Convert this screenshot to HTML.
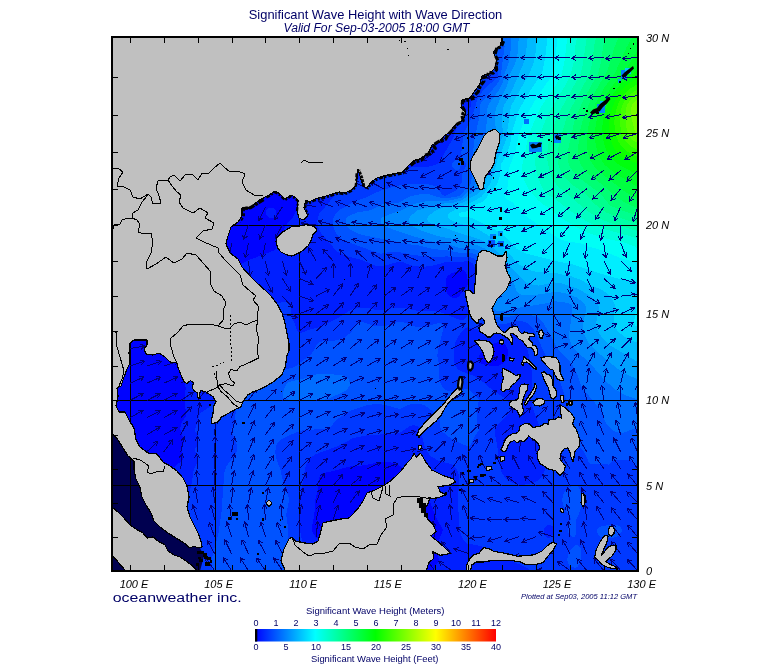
<!DOCTYPE html>
<html><head><meta charset="utf-8"><title>Significant Wave Height with Wave Direction</title>
<style>html,body{margin:0;padding:0;background:#fff}body{width:775px;height:665px;position:relative;overflow:hidden;font-family:"Liberation Sans",sans-serif}</style></head>
<body>
<svg width="775" height="665" viewBox="0 0 775 665" style="position:absolute;left:0;top:0">
<defs><clipPath id="cl"><rect x="113" y="38" width="524" height="532"/></clipPath>
<linearGradient id="cb" x1="0" x2="1" y1="0" y2="0"><stop offset="0" stop-color="#0000ff"/><stop offset="0.25" stop-color="#00ffff"/><stop offset="0.5" stop-color="#00ff00"/><stop offset="0.75" stop-color="#ffff00"/><stop offset="1" stop-color="#ff0000"/></linearGradient></defs>
<rect x="111" y="36" width="528" height="536" fill="#000"/>
<g clip-path="url(#cl)">
<g shape-rendering="crispEdges"><rect x="113" y="38" width="524" height="532" fill="#0003ff"/><path fill="#001fff" d="M444.7,36 639,36 639,572 432.2,572 439,560 437.5,554 437.6,546 439.8,538 443.1,530 436.4,518 427.5,496 421,486 409.7,474 401,466.6 395,463.3 387,461.7 381,462.1 363,465.4 349,466.6 335,470.6 323,473.2 321,474 319.6,476 318.2,488 315,501.1 314.4,514 311.7,528 312.3,532 315,536.1 319,539.9 358.1,572 111,572 111,508.4 124.9,496 138.3,486 151.6,478 175,466.3 182.9,460 183.2,458 181.9,450 184.3,440 181.3,434 180.1,428 181.8,422 185.9,416 186.3,414 184.5,402 185.7,388 179.8,354 179.2,342 180.3,334 183.1,324 186.5,316 192.2,306 199.3,296 206.3,288 214.8,280 222.6,274 232.4,268 247,260.8 275,250 280.7,240 285.3,226 293,217 294.8,214 298.4,202 303.5,192 313.7,178 319.6,172 327,165.8 335,160.6 343,156.4 351,153.1 361,150 379,146.4 411,142.9 421,140.5 430.2,136 437.6,130 457.5,102 459.6,96 464.3,72 463.7,64 460.4,56 453.7,46ZM495,343.2 486.1,348 481.3,352 480,354 479.2,356 479,359.1 481,364 491,365.9 497,366.1 501,364.8 505,361.5 507,358 507.9,354 507.8,350 506.3,346 504.6,344 501,342.2 499,342ZM461,270 451,273.4 447.7,276 446.5,278 445.9,280 446.4,284 445.8,290 446.2,292 449,295.8 453,298 457,297.9 459,296.2 467.3,286 468.1,284 467,275.3 465.8,272 463,270.1ZM268.8,208 271,207.5 273,208 275.4,210 276.4,214 275.9,216 273.5,218 271,218.3 269,217.7 267,216.1 266,214 265.9,212 266.6,210Z"/><path fill="#0039ff" d="M472.9,36 639,36 639,572 532.7,572 527.2,568 511,560.6 489,548.7 481,546 467,543.5 464.9,542 462.2,538 460.7,534 459.6,528 458,504 459,478 458.5,474 457.1,470 454.1,466 451,464.1 437,460.1 430.7,456 427.3,452 424.3,446 420.9,430 419.8,428 417.4,426 413,425.1 409,426.5 401,432.2 397,433.5 367,435.3 353.1,438 341,444.9 315,454.5 311,457.3 308.5,460 305.6,466 301.1,490 300.3,500 299.9,530 302.9,544 312.3,572 166.9,572 173.2,558 186.7,534 189,528 189.3,524 187.9,508 188,500 191.9,482 193.7,470 196.6,464 197.4,460 197,456 194.6,450 198.1,444 198.6,438 197,434 194.5,430 197.9,422 199,415.3 201,412.6 210.8,406 214.2,402 223,376 231,360.1 241,346.4 259.5,326 270.2,310 273.6,306 277,303.6 283,301.8 287,301.9 289,302.4 291,303.9 291.6,306 290.9,312 291.4,316 295,324 297,330.7 299,332.5 301,332.9 311,329.2 321,326.8 339,317.3 351,309.9 359,307.5 365,307.5 377,310.1 381,310.4 395,307.7 401,307.5 419,311.2 435,311.2 443,312.9 457,319 461,320 463,320 465,318.9 467,315.8 475.8,288 476.7,282 476.4,274 475.2,268 473.2,264 471,262.2 467,261.4 445,262.3 433,265.6 423,266.9 413,265.8 403,262.3 399,261.6 385,265.6 379,266.1 375,265.6 361,259.7 345,255.8 337,251.6 321.6,234 318.4,228 317.4,222 317.7,218 319,214 333,197.5 345,187.4 359,179.1 373,173.6 387,169.9 401,168 429,166.6 435,165.1 439,162.7 453,138.3 456.5,128 459.5,122 470.9,106 471.8,96 474.8,88 479,82 486.2,74 487.2,72 487,67.8 483,55.2 479,46.3ZM547,525.2 544.5,528 543.8,532 545,536 547,537.8 549,537.9 551,537 553,534.8 554.2,530 553,526.9 551,525.1 549,524.6ZM467,327.4 465,328.3 461,332.6 457,338.8 454.8,344 453.7,356 454.1,362 455.3,366 459,370.3 473,375.6 480.6,380 493,390.6 504.6,398 508.5,402 510.2,406 510.1,410 508.3,414 497,425.5 495,430 495,434.8 497.6,448 498.8,462 501.5,472 503.9,476 507,479.3 511,482.1 515,483.7 519,484.6 525,484.6 535,482.3 538.7,480 540.7,478 544.2,472 546.3,464 546.6,454 545.4,446 543,436.9 532.1,406 531.4,400 532.1,382 531.5,370 528.6,354 524.4,340 521,333.9 519,332 517,331.4 503,332 489,331.7Z"/><path fill="#0053ff" d="M489.8,36 639,36 639,469.3 637,468.9 633,461.5 631,460.2 629,459.7 615,460.3 611.3,462 609,464.6 601,463.8 591,464.1 589,462.6 584.1,452 577,443.5 573.3,436 571.3,428 569.6,410 560.1,382 555.4,372 543,350.5 536.2,334 532.9,328 527,322.8 521,320.8 517,321.1 509,323.2 503,324.1 493,323.3 485.6,320 483,317.6 481,314.7 479.4,310 479.1,304 483.1,284 483.1,276 481.9,270 480.3,266 477.8,262 475,259.2 473,257.9 469,256.9 459,257.3 447,256.4 439,256.9 429,256.5 411,254.8 403,252.8 397,252 389,252.2 381,253.7 379,253.4 343,240.2 338.1,236 335.4,232 333.7,228 332.8,222 333.5,218 335.3,214 339,210 347,206 355,201 367,197 377.5,192 385,189.2 401,184.9 411,184.2 429,184.5 437,186.5 441.6,194 445,196.1 457.2,190 461.8,182 462.6,172 466.4,166 466.3,164 465,162 463,160.8 461,161.5 460.3,168 459,169.5 457,170 455,169.6 453,168.1 452.1,166 452.2,164 453,162.3 455,160.5 459,159.4 460.6,158 463.6,134 472.4,116 477.8,98 483.3,90 497,77.6 498,76 498.3,74 494.1,48ZM360.1,322 363,322 373,325.5 379,326.5 387,325.6 399,321.5 403,321.9 413,326 419,327.3 427,326.6 439,322.7 442,324 443.1,326 443,330 438,350 437.3,356 439.3,366 438.7,376 441,384.5 443,387.9 445,389.8 449,391.4 457,391.3 467,388.8 469,389 473.2,394 478.1,398 479,399.7 476.5,414 477.2,422 478.9,430 473.8,438 471,444 469,446.8 467,446.2 453,439.6 447,435.8 440.8,430 439.5,420 436.3,414 433,411.2 430.5,410 425,405.2 419,403.6 411,404.3 407,405.6 401,408.6 399,408.9 389,405.8 381,404.3 375,404.1 367,405.3 351,410.3 345,413.8 336.3,420 329,428.8 304.2,430 296.9,432 287.9,436 280.6,440 278.3,442 276.1,446 275.2,452 276.2,458 280.4,470 283.8,484 288.3,496 289.1,500 286.6,512 286.3,516 288.5,530 287.6,542 288.4,562 286.9,572 212,572 211.7,566 212.4,556 218.3,534 221.5,512 224.4,472 226.5,466 234.5,456 237.4,450 236.6,444 230.9,430 234.6,422 235.9,410 237.3,406 241,400.6 249,391.7 255,385.9 263,379.6 271.6,374 277,371.2 283,369.3 291,368.2 295.9,366 311,354.4 314.1,350 317.2,344 319,342.4 323,341.3 337,340.4 345,337.5 351,332.3 356.4,324ZM584.9,470 585,469.6 585.3,470 585,470.2ZM571.4,486 575,485.2 577,485.7 579,487.7 580.6,492 581.1,496 580.9,508 579,514 576,520 576.5,532 575,536.4 573,537 569,534.1 567.8,532 567.5,528 570.4,522 570.6,518 564.2,508 562.7,504 562.2,500 563,495.2 565,491.2 567,488.8ZM602.4,526 613,524.7 617,525 619,525.8 621.1,528 621.7,530 621.5,532 619,535.4 615,537.4 609,538.3 603,537.9 599,535.8 597.2,532 597.2,530 598.2,528ZM574.1,546 575,545 577,544.7 579,546 581,549.3 581.5,552 580.7,560 579.7,564 577,567.1 575,567.8 571,567 569,565.2 567.2,560 567.7,556 569,552.5 571,549.2Z"/><path fill="#006dff" d="M501.8,36 639,36 639,428.6 633,429.1 623,432.9 619,433.2 613,430.3 608,426 604.2,420 601,409.8 582,388 577,374 573.1,366 570.1,362 562,354 557.1,348 548.7,332 542.7,322 539,318.1 533,315.6 525,314.5 519,314.7 505,317.4 499,317.4 493,315.7 489,312.6 486.5,308 485.8,302 489.8,284 489.7,276 488.1,270 485.3,264 482.5,260 478.3,256 475,254 471,252.8 459,252.8 447,250.3 433,249 419,245.4 411,244.5 361,234.7 350.6,230 347,226.9 345.6,224 346.3,218 348.4,216 359,211.9 367,211 371,209.9 383,204.1 391,202.6 399,202.8 409,196.8 419,194.4 429,194.3 441.3,198 445,198.5 459,196.1 461,195 465,189.7 469.4,186 470.8,184 473.2,168 473.6,142 478.8,120 479.7,112 479.7,106 481,102.9 497,84.3 499.6,80 500.8,76 504.6,46ZM319.7,374 339,374.7 344.7,376 347,377.5 349,380 349.9,384 349.5,386 347,389.6 343,392.1 329,398.4 321,400.6 299,401.5 289,399.8 283.9,398 283,397 282.7,394 284.4,388 286.5,384 288.8,382 303,378.7 315,374.7Z"/><path fill="#0087ff" d="M510.6,36 639,36 639,399.8 625,395.3 615,389.4 605,380.4 590.6,364 575,349.7 571.8,346 569.6,340 569,334 572.5,310 572.1,306 570.8,304 567,302.8 555,301.3 545,303.6 519,307.6 505,311.1 501,311.5 497,310.9 493,308 491.6,304 492.8,298 498,286 498.3,282 497.7,278 495.8,272 491.9,264 487.6,258 483,253.7 479,251.1 475,249.5 459,247.7 447,243.8 433,241.8 409,235 394,230 385.2,226 381,223.3 380.6,222 381,218.4 383,216.8 403,209.7 413,204.6 417,203.1 429,200.8 449,200.6 461,197.9 463.7,196 474.2,186 476,182 477.5,176 481.4,150 486.1,132 487.4,108 488.8,104 499,90.1 503.1,82 504.5,74 508.2,64 510.1,56 510.8,48Z"/><path fill="#00a1ff" d="M518.9,36 639,36 639,379.9 627,374.6 617,368.3 597,351.7 588,342 584.8,336 583,328 583,324 585.7,312 585.7,306 584.8,304 582.7,302 577.6,298 569,294 557,291.7 531,295.5 525,295.4 519.3,294 517,292 514.1,284 507,275.9 496.5,260 491,253.6 485,248.7 477,245 461,242.2 451,238.5 439,236.4 419.8,230 412.4,226 409.2,222 408.8,220 410.7,216 417,210.6 431.9,206 445,203.4 453,202.7 461,200.4 465,198.2 469,194.5 475,190.7 478.8,186 482.5,176 488,152 496.2,134 494.9,118 495.3,112 496.2,108 499.6,100 506.2,88 508.3,82 509.2,76 514.2,66 516.3,60 517.8,52Z"/><path fill="#00baff" d="M527.9,36 639,36 639,362.8 608,344 601,336.3 597.3,330 596.1,326 596.2,322 598.5,312 598.7,306 597.9,304 594.9,300 589,295.1 577,288.3 559,282.7 553,282.4 539,285.6 531,284.3 527,283 513,270 497,251 487,242.9 477,238.3 462.1,234 445,227.8 435,225.6 428.9,222 427.3,220 427.2,218 428.5,216 433.4,212 436.9,210 445,206.9 451,206.4 463,202.4 467,200.4 471,197.3 477.9,194 479.9,192 483.6,186 487.6,176 493,155.8 502.8,136 502.1,118 503.7,106 512,90 523.3,64 525.9,54Z"/><path fill="#00d4ff" d="M537.5,36 639,36 639,343.3 630.6,340 623.5,336 618.5,332 615.4,328 613.6,322 614.9,308 614.5,304 611.6,298 605.3,292 599,288.5 589,284.6 581,280 571,276.3 557,273.4 537,272 531,270.4 525,267.9 519,264.3 501,245.3 492.2,238 475,227.4 467,225.7 454.5,222 451,220 448.7,218 447.6,216 448.7,214 451.1,212 457.6,208 467,204.4 481,197.2 483.7,194 490,184 493.2,176 497,160.5 503.7,146 505.9,140 511,106 529.1,74 533,64.9 535.1,56Z"/><path fill="#00eeff" d="M547.7,36 639,36 639,327.5 635.5,326 634.4,324 634.1,322 638.8,292 638.7,286 637,283.3 633,281.7 617,278.2 601,273.8 571,263.9 559.9,262 525,253.3 517,249 504.1,236 495,229.5 473,218.4 467,216.7 461,217.2 458.6,216 459,213.5 461,212.4 467,211.4 475,204.9 483,201.5 486.3,198 489,193.5 494.4,188 497,184 499.7,176 501.2,164 506.6,154 509.1,148 510.6,142 511.4,134 519,109.4 529.5,92 540.1,76 542.8,70 545.2,58Z"/><path fill="#00fff6" d="M557.7,36 639,36 639,264.3 635,262.1 621,258.3 599,249.4 589,246.8 581,243.4 565,241 559,238.8 539,225.5 526.1,216 519,210 513,202.7 507,199.5 505.6,198 505.2,196 508.3,184 509.2,168 515.8,150 518.9,134 526.5,116 533.9,102 551.6,76 554.6,64Z"/><path fill="#00ffdc" d="M567.5,36 639,36 639,249.2 635,246.7 622.8,242 607,238.8 589,233.2 579,228.7 565,220.4 557,214.8 549,207.9 543,204.3 537.8,200 528,188 523.9,180 522.4,174 522.2,166 527.9,138 533.2,124 541,107.1 555.4,86 561,76 564.4,62Z"/><path fill="#00ffc2" d="M576.8,38 577.2,36 639,36 639,239.3 627,235.2 603,228.7 593,224.5 583,219.2 569,209.9 555,198.8 546.2,194 541.4,186 537.4,176 535.6,168 535.3,160 536.3,150 538.5,140 543,126 548.2,114 566.1,84 570.7,74 573.8,62 575.4,46Z"/><path fill="#00ffa8" d="M587,36 639,36 639,231.5 609,222.6 599.1,218 588.7,212 557.5,186 552.9,180 549.5,172 547.4,160 547.2,154 548,146 550.2,136 554.3,124 560.5,110 580.4,74 582.5,66Z"/><path fill="#00ff8e" d="M596.5,36 639,36 639,223.9 614.1,216 607,212.8 602.4,210 593,202.6 586.1,194 575,186.8 567,180 562.1,174 558.6,166 557.7,160 557.8,152 559,144 561,136 565.9,120 570,110 589.6,74 591.9,64 594.5,44Z"/><path fill="#00ff74" d="M606.3,38 607.2,36 639,36 639,216.3 620.8,210 611.2,206 609,204.4 601,194 581.9,180 575.3,174 570.5,168 568,162 567.8,156 568.5,148 574.2,122 577.1,114 585.4,96 597.9,74 601.1,62 603.2,46Z"/><path fill="#00ff5a" d="M618.4,38 619.5,36 639,36 639,208.5 627.7,204 617.4,198 605,187 589,174.2 584.6,170 581.5,166 579.7,162 578.3,156 578.1,148 579.4,136 581.1,126 584,116 591.5,98 607.6,70 614.2,48Z"/><path fill="#00ff40" d="M632.9,36 639,36 639,199.4 633,196.8 623,190.2 603,174.8 595.6,168 592.3,164 589.2,158 587.7,152 587,144 587.3,134 588.9,124 591.5,114 595.1,104 604.1,88 614.6,74 626.2,48Z"/><path fill="#00ff27" d="M637.8,50 639,48.1 639,188 617,174.4 608.2,168 603.9,164 600,158 597.4,152 595.6,144 594.9,136 595.3,128 597,118 600,108 603.6,100 610.7,88 628.1,66Z"/><path fill="#00ff0d" d="M637.8,68 639,66.4 639,175.6 619,164.7 613,160 609.5,156 606.1,150 604,144 602.7,136 602.3,128 602.9,120 604.8,112 609.7,100 612.9,94 621,83.7 634.6,72Z"/><path fill="#0dff00" d="M637.7,78 639,77.2 639,164.2 625,158.7 621,156 616.8,152 614,148 611.3,142 608.6,126 609.1,118 610.5,112 617.2,96 621,90.7 625.7,86 631,81.9Z"/><path fill="#27ff00" d="M637.5,84 639,83.2 639,157.1 627.8,152 621,145.8 618.6,142 616.2,136 614.3,124 614.6,118 615.7,112 618.2,104 621,98.2 624.1,94 628.1,90Z"/><path fill="#41ff00" d="M636.5,90 639,88.8 639,150.2 631,146.4 628.1,144 624.7,140 621.2,132 619.8,122 620.9,110 623.7,102 629,95.1Z"/><path fill="#5bff00" d="M634.9,96 639,94.1 639,143.3 633,140.3 629.3,136 626.9,130 625.6,122 625.3,114 626.6,106 630.1,100Z"/><path fill="#75ff00" d="M637,100 639,99.3 639,136.3 637,135.9 635,132.6 632.1,120 631,112 631.2,108 632.4,104 634,102Z"/><rect x="597" y="104" width="8" height="9" fill="#0088ff"/><rect x="600" y="101" width="6" height="5" fill="#00bbff"/><rect x="621" y="70" width="6" height="9" fill="#0080ff"/><rect x="625" y="68" width="6" height="6" fill="#00ccff"/><rect x="553.5" y="133.5" width="7.5" height="9" fill="#0088ff"/><rect x="529" y="142" width="13" height="9.5" fill="#0080ff"/><rect x="524" y="119" width="4.5" height="4.5" fill="#006eff"/><rect x="617.5" y="79" width="3.5" height="4" fill="#0099ff"/><rect x="490" y="234" width="6" height="5" fill="#0080ff"/><rect x="498" y="231" width="5" height="5" fill="#0099ff"/><rect x="488" y="240" width="7" height="7" fill="#0055ff"/><rect x="498" y="241" width="6" height="6" fill="#0066ff"/></g>
<path fill="#000050" d="M113,430 125,430 132,450 138,470 150,500 170,525 192,545 200,548 204,556 200,571 113,571Z"/>
<path d="M130.5,38V570M215.5,38V570M299.5,38V570M384.5,38V570M468.5,38V570M553.5,38V570M638.5,38V570M113,485.5H637M113,400.5H637M113,314.5H637M113,225.5H637M113,133.5H637" stroke="#000" stroke-width="1" fill="none" shape-rendering="crispEdges"/>
<path d="M130,417.6L143.3,410.2M138.3,410.1L143.3,410.2L140.7,414.5M130,400.4L143.4,393.3M138.4,393.1L143.4,393.3L140.8,397.5M130,383.2L143.9,377M138.9,376.5L143.9,377L140.9,381M130,366L144.5,361.2M139.6,360.2L144.5,361.2L141.1,365M130,348.6L145,345.9M140.3,344.2L145,345.9L141.1,349.2M146.9,451.8L157.8,441.2M153,442.4L157.8,441.2L156.4,446M146.9,434.7L159.9,426.9M154.9,427L159.9,426.9L157.5,431.2M146.9,417.6L160.4,410.6M155.4,410.4L160.4,410.6L157.7,414.8M146.9,400.4L160.5,393.5M155.5,393.3L160.5,393.5L157.7,397.7M146.9,383.2L160.8,377.1M155.8,376.5L160.8,377.1L157.9,381.1M146.9,366L161.4,361.3M156.5,360.3L161.4,361.3L158,365M163.8,451.8L172.9,439.5M168.3,441.5L172.9,439.5L172.3,444.5M163.8,434.7L177.2,427.4M172.2,427.3L177.2,427.4L174.6,431.6M163.8,417.6L177.2,410.4M172.2,410.2L177.2,410.4L174.6,414.6M163.8,400.4L177.3,393.3M172.3,393.1L177.3,393.3L174.6,397.5M163.8,383.2L177.7,377M172.7,376.5L177.7,377L174.8,381M163.8,366L178.3,361.3M173.4,360.3L178.3,361.3L175,365M180.8,468.8L182.1,453.7M179.2,457.7L182.1,453.7L184.2,458.2M180.8,451.8L184.2,437M180.8,440.6L184.2,437L185.6,441.7M180.8,434.7L187.8,421.2M183.6,423.9L187.8,421.2L188,426.2M180.8,417.6L191.5,406.8M186.6,408.1L191.5,406.8L190.2,411.6M180.8,400.4L193.5,392.1M188.5,392.4L193.5,392.1L191.2,396.6M180.8,383.2L194.4,376.6M189.5,376.2L194.4,376.6L191.6,380.7M197.7,519.7L192.8,505.3M191.8,510.2L192.8,505.3L196.5,508.6M197.7,502.8L195.1,487.8M193.4,492.5L195.1,487.8L198.3,491.6M197.7,485.8L196.5,470.6M194.4,475.1L196.5,470.6L199.4,474.8M197.7,468.8L196.9,453.6M194.6,458.1L196.9,453.6L199.6,457.8M197.7,451.8L197.5,436.6M195.1,440.9L197.5,436.6L200.1,440.9M197.7,434.7L198.9,419.5M196.1,423.7L198.9,419.5L201.1,424.1M197.7,417.6L199.8,402.5M196.7,406.5L199.8,402.5L201.7,407.2M197.7,400.4L207.1,388.5M202.5,390.4L207.1,388.5L206.4,393.5M214.6,570.5L205.8,558.1M206.2,563.1L205.8,558.1L210.3,560.2M214.6,553.6L207.2,540.3M207.2,545.3L207.2,540.3L211.5,542.9M214.6,536.7L209.2,522.5M208.4,527.4L209.2,522.5L213.1,525.6M214.6,519.7L211,504.9M209.6,509.7L211,504.9L214.5,508.6M214.6,502.8L213,487.6M211,492.2L213,487.6L216,491.7M214.6,485.8L214.6,470.6M212.1,474.9L214.6,470.6L217.1,474.9M214.6,468.8L215,453.6M212.4,457.9L215,453.6L217.4,458M214.6,451.8L215.3,436.6M212.6,440.8L215.3,436.6L217.6,441M214.6,434.7L215.8,419.5M213,423.7L215.8,419.5L218,424.1M214.6,400.4L221.6,387M217.4,389.6L221.6,387L221.9,392M231.5,570.5L223.2,557.8M223.5,562.8L223.2,557.8L227.6,560M231.5,553.6L224.8,539.9M224.5,544.9L224.8,539.9L229,542.7M231.5,536.7L226.7,522.2M225.7,527.1L226.7,522.2L230.4,525.6M231.5,519.7L229.4,504.7M227.5,509.3L229.4,504.7L232.5,508.6M231.5,502.8L232.9,487.6M230,491.7L232.9,487.6L235,492.2M231.5,485.8L234.1,470.8M230.9,474.7L234.1,470.8L235.8,475.5M231.5,468.8L234.6,453.9M231.2,457.6L234.6,453.9L236.1,458.6M231.5,451.8L234.8,436.9M231.4,440.6L234.8,436.9L236.3,441.7M231.5,434.7L235,419.9M231.6,423.5L235,419.9L236.4,424.7M231.5,417.6L236.1,403.1M232.4,406.5L236.1,403.1L237.2,408M231.5,243L229.5,258M232.5,254.1L229.5,258L227.6,253.4M248.4,570.5L240.1,557.8M240.4,562.8L240.1,557.8L244.6,560M248.4,553.6L242,539.8M241.5,544.8L242,539.8L246.1,542.7M248.4,536.7L244.6,522M243.3,526.8L244.6,522L248.1,525.5M248.4,519.7L247.5,504.5M245.3,509L247.5,504.5L250.3,508.7M248.4,502.8L251.3,487.8M248,491.6L251.3,487.8L253,492.6M248.4,485.8L253.2,471.3M249.4,474.7L253.2,471.3L254.2,476.2M248.4,468.8L253.9,454.6M250,457.8L253.9,454.6L254.7,459.5M248.4,451.8L254.2,437.7M250.3,440.8L254.2,437.7L254.9,442.7M248.4,434.7L254.5,420.7M250.5,423.7L254.5,420.7L255.1,425.7M248.4,417.6L255.1,403.9M251,406.7L255.1,403.9L255.4,408.9M248.4,400.4L257.3,388.1M252.8,390.2L257.3,388.1L256.8,393.1M248.4,260.8L250.3,275.9M252.2,271.3L250.3,275.9L247.3,271.9M248.4,243L245.4,257.8M248.7,254.1L245.4,257.8L243.8,253.1M248.4,225L243.6,239.4M247.4,236.1L243.6,239.4L242.6,234.5M265.4,570.5L256.6,558.1M257.1,563L256.6,558.1L261.2,560.2M265.4,553.6L258.1,540.2M258,545.2L258.1,540.2L262.4,542.8M265.4,536.7L260.9,522.1M259.8,527L260.9,522.1L264.5,525.5M265.4,519.7L264.3,504.6M262.1,509.1L264.3,504.6L267.1,508.7M265.4,502.8L268.5,487.9M265.2,491.6L268.5,487.9L270.1,492.7M265.4,485.8L271.5,471.9M267.4,474.8L271.5,471.9L272,476.8M265.4,468.8L273.4,455.9M269,458.2L273.4,455.9L273.2,460.9M265.4,451.8L273.9,439.2M269.4,441.4L273.9,439.2L273.5,444.2M265.4,434.7L274.4,422.5M269.8,424.5L274.4,422.5L273.8,427.4M265.4,417.6L274.8,405.7M270.2,407.5L274.8,405.7L274.1,410.7M265.4,400.4L276.1,389.7M271.3,391L276.1,389.7L274.8,394.5M265.4,278.5L272.1,292.1M272.4,287.2L272.1,292.1L268,289.4M265.4,260.8L268.6,275.6M270.1,270.9L268.6,275.6L265.3,272M265.4,243L262.4,257.9M265.7,254.1L262.4,257.9L260.8,253.1M265.4,225L259.6,239.1M263.6,236L259.6,239.1L258.9,234.1M265.4,206.9L259,220.7M263.1,217.9L259,220.7L258.5,215.8M282.3,570.5L273.9,557.8M274.2,562.8L273.9,557.8L278.4,560M282.3,553.6L275.3,540.1M275.1,545.1L275.3,540.1L279.5,542.8M282.3,536.7L277.1,522.4M276.2,527.3L277.1,522.4L280.9,525.6M282.3,519.7L280.9,504.6M278.8,509.1L280.9,504.6L283.8,508.7M282.3,502.8L285.6,487.9M282.2,491.6L285.6,487.9L287.1,492.7M282.3,485.8L289.2,472.2M285,475L289.2,472.2L289.4,477.2M282.3,468.8L291.8,456.9M287.1,458.7L291.8,456.9L291,461.9M282.3,451.8L292.9,440.9M288.1,442.2L292.9,440.9L291.7,445.7M282.3,434.7L293.6,424.5M288.7,425.6L293.6,424.5L292,429.3M282.3,417.6L294.2,408.2M289.3,408.9L294.2,408.2L292.4,412.8M282.3,400.4L294.8,391.8M289.8,392.2L294.8,391.8L292.6,396.3M282.3,383.2L295.1,375M290.1,375.2L295.1,375L292.8,379.5M282.3,313.8L297,317.6M293.4,314.1L297,317.6L292.2,318.9M282.3,296.2L292.5,307.4M291.4,302.5L292.5,307.4L287.7,305.9M282.3,278.5L290.6,291.3M290.3,286.3L290.6,291.3L286.1,289M282.3,260.8L286.5,275.4M287.7,270.5L286.5,275.4L282.9,271.9M282.3,225L275.3,238.5M279.5,235.8L275.3,238.5L275,233.5M282.3,206.9L274.1,219.8M278.5,217.5L274.1,219.8L274.3,214.8M299.2,536.7L299,521.5M296.6,525.8L299,521.5L301.6,525.8M299.2,519.7L301.3,504.7M298.2,508.6L301.3,504.7L303.2,509.3M299.2,502.8L302.9,488M299.4,491.6L302.9,488L304.3,492.8M299.2,485.8L306.7,472.6M302.4,475.1L306.7,472.6L306.7,477.6M299.2,468.8L310,458.1M305.1,459.3L310,458.1L308.7,462.9M299.2,451.8L311.1,442.3M306.1,443L311.1,442.3L309.3,446.9M299.2,434.7L311.9,426.3M306.9,426.6L311.9,426.3L309.6,430.8M299.2,417.6L312.6,410.4M307.6,410.3L312.6,410.4L310,414.7M299.2,400.4L312.8,393.6M307.8,393.3L312.8,393.6L310,397.8M299.2,383.2L312.5,375.9M307.5,375.8L312.5,375.9L309.9,380.1M299.2,366L311.8,357.4M306.8,357.8L311.8,357.4L309.6,361.9M299.2,348.6L310.9,339M306,339.8L310.9,339L309.2,343.6M299.2,331.2L311.1,321.7M306.1,322.5L311.1,321.7L309.2,326.4M299.2,313.8L313.4,308.4M308.5,307.6L313.4,308.4L310.3,312.2M299.2,296.2L313.6,300.9M310.3,297.2L313.6,300.9L308.7,302M299.2,278.5L313.3,284.3M310.2,280.4L313.3,284.3L308.3,285M299.2,260.8L305.9,274.5M306.2,269.5L305.9,274.5L301.7,271.7M299.2,225L285.7,232.1M290.7,232.3L285.7,232.1L288.4,227.8M316.1,536.7L317.8,521.5M314.8,525.6L317.8,521.5L319.8,526.1M316.1,519.7L319.9,505M316.4,508.6L319.9,505L321.3,509.8M316.1,502.8L321.5,488.6M317.6,491.7L321.5,488.6L322.3,493.5M316.1,485.8L324.6,473.2M320.1,475.4L324.6,473.2L324.3,478.2M316.1,468.8L327.5,458.7M322.6,459.7L327.5,458.7L325.9,463.4M316.1,451.8L328.9,443.5M323.9,443.7L328.9,443.5L326.6,447.9M316.1,434.7L329.6,427.7M324.6,427.5L329.6,427.7L326.9,431.9M316.1,417.6L330.1,411.5M325.1,411L330.1,411.5L327.1,415.5M316.1,400.4L330.1,394.6M325.2,393.9L330.1,394.6L327.1,398.5M316.1,383.2L329.8,376.5M324.8,376.2L329.8,376.5L327,380.7M316.1,366L328.8,357.6M323.8,357.9L328.8,357.6L326.6,362.1M316.1,348.6L327.7,338.8M322.8,339.7L327.7,338.8L326,343.5M316.1,331.2L327.3,320.9M322.4,322L327.3,320.9L325.8,325.7M316.1,313.8L328.4,304.8M323.4,305.3L328.4,304.8L326.4,309.4M316.1,296.2L329.6,289.1M324.6,288.9L329.6,289.1L326.9,293.3M316.1,278.5L326.6,267.5M321.8,268.9L326.6,267.5L325.4,272.4M316.1,260.8L308.4,247.7M308.4,252.7L308.4,247.7L312.7,250.2M316.1,243L301.2,239.9M305,243.2L301.2,239.9L306,238.3M316.1,225L301,223.2M305,226.2L301,223.2L305.6,221.2M316.1,206.9L301.3,203.8M305,207.1L301.3,203.8L306,202.2M333,519.7L338,505.4M334.3,508.6L338,505.4L339,510.3M333,502.8L339.8,489.1M335.6,491.9L339.8,489.1L340.1,494.1M333,485.8L342.9,474.3M338.2,475.9L342.9,474.3L342,479.2M333,468.8L345.4,459.9M340.4,460.4L345.4,459.9L343.3,464.5M333,451.8L346.5,444.7M341.5,444.5L346.5,444.7L343.8,448.9M333,434.7L347,428.8M342.1,428.2L347,428.8L344,432.8M333,417.6L347.3,412.3M342.3,411.4L347.3,412.3L344.1,416.1M333,400.4L347.3,395.2M342.4,394.3L347.3,395.2L344.1,399M333,383.2L347,377.3M342.1,376.7L347,377.3L344,381.3M333,366L345.9,357.9M340.9,358.1L345.9,357.9L343.6,362.3M333,348.6L344.6,338.8M339.7,339.7L344.6,338.8L342.9,343.5M333,331.2L343.7,320.4M338.9,321.7L343.7,320.4L342.4,325.2M333,313.8L343.5,302.7M338.7,304.1L343.5,302.7L342.3,307.6M333,296.2L342.3,284.1M337.7,286.1L342.3,284.1L341.7,289.1M333,278.5L333.8,263.4M331.1,267.6L333.8,263.4L336.1,267.8M333,260.8L322.9,249.5M323.9,254.4L322.9,249.5L327.7,251M333,243L318.9,237.3M322,241.2L318.9,237.3L323.9,236.6M333,225L318.4,220.9M321.9,224.5L318.4,220.9L323.2,219.7M333,206.9L318.8,201.5M322,205.4L318.8,201.5L323.8,200.7M350,502.8L359.3,490.8M354.7,492.6L359.3,490.8L358.6,495.7M350,485.8L361.6,476.1M356.7,476.9L361.6,476.1L359.9,480.8M350,468.8L363.2,461.3M358.2,461.3L363.2,461.3L360.7,465.6M350,451.8L364,445.8M359,445.2L364,445.8L360.9,449.8M350,434.7L364.3,429.7M359.4,428.8L364.3,429.7L361,433.5M350,417.6L364.4,412.9M359.5,411.9L364.4,412.9L361.1,416.6M350,400.4L364.4,395.6M359.5,394.6L364.4,395.6L361.1,399.3M350,383.2L364,377.3M359,376.7L364,377.3L360.9,381.3M350,366L363,358.2M358,358.3L363,358.2L360.6,362.6M350,348.6L361.7,339M356.8,339.8L361.7,339L359.9,343.6M350,331.2L360.5,320.3M355.7,321.7L360.5,320.3L359.3,325.1M350,313.8L359.8,302.1M355.1,303.8L359.8,302.1L358.9,307.1M350,296.2L358.2,283.4M353.7,285.7L358.2,283.4L357.9,288.4M350,278.5L350.4,263.4M347.8,267.6L350.4,263.4L352.8,267.8M350,260.8L339.7,249.6M340.8,254.5L339.7,249.6L344.5,251.1M350,243L335.7,237.8M338.9,241.6L335.7,237.8L340.6,236.9M350,225L335.3,221.1M338.8,224.7L335.3,221.1L340.1,219.8M350,206.9L335.8,201.3M338.9,205.2L335.8,201.3L340.8,200.6M366.9,485.8L379.7,477.6M374.7,477.8L379.7,477.6L377.4,482.1M366.9,468.8L380.7,462.5M375.7,462L380.7,462.5L377.8,466.5M366.9,451.8L381.2,446.7M376.3,445.8L381.2,446.7L378,450.5M366.9,434.7L381.5,430.4M376.6,429.2L381.5,430.4L378,434M366.9,417.6L381.5,413.5M376.7,412.3L381.5,413.5L378,417.1M366.9,400.4L381.4,396M376.5,394.9L381.4,396L378,399.7M366.9,383.2L381.1,377.7M376.1,377L381.1,377.7L377.9,381.6M366.9,366L380.2,358.6M375.2,358.5L380.2,358.6L377.6,362.9M366.9,348.6L378.9,339.4M374,340L378.9,339.4L377,344M366.9,331.2L377.6,320.4M372.8,321.7L377.6,320.4L376.3,325.3M366.9,313.8L377.1,302.5M372.4,304L377.1,302.5L376.1,307.4M366.9,296.2L376.8,284.6M372,286.3L376.8,284.6L375.8,289.6M366.9,278.5L370.9,263.9M367.3,267.4L370.9,263.9L372.2,268.7M366.9,260.8L355.7,250.5M357.2,255.3L355.7,250.5L360.6,251.6M366.9,243L352.1,239.4M355.7,242.8L352.1,239.4L356.9,238M366.9,225L351.9,222.2M355.7,225.5L351.9,222.2L356.7,220.6M366.9,206.9L352.6,201.7M355.8,205.5L352.6,201.7L357.5,200.8M366.9,188.8L353.6,181.4M356.2,185.7L353.6,181.4L358.6,181.3M383.8,468.8L398,463.3M393,462.5L398,463.3L394.8,467.2M383.8,451.8L398.4,447.5M393.5,446.3L398.4,447.5L394.9,451.2M383.8,434.7L398.5,431M393.7,429.6L398.5,431L395,434.5M383.8,417.6L398.6,414.1M393.8,412.6L398.6,414.1L395,417.5M383.8,400.4L398.5,396.4M393.6,395.2L398.5,396.4L394.9,400M383.8,383.2L398.1,378.1M393.2,377.2L398.1,378.1L394.9,381.9M383.8,366L397.3,359M392.3,358.8L397.3,359L394.6,363.2M383.8,348.6L396.2,339.9M391.2,340.3L396.2,339.9L394.1,344.4M383.8,331.2L394.9,320.8M390,321.9L394.9,320.8L393.4,325.6M383.8,313.8L394.7,303.2M389.9,304.4L394.7,303.2L393.4,308M383.8,296.2L396,287.2M391.1,287.7L396,287.2L394,291.8M383.8,278.5L393.2,266.6M388.6,268.5L393.2,266.6L392.5,271.6M383.8,260.8L371.1,252.4M373.4,256.9L371.1,252.4L376.1,252.7M383.8,243L368.9,240M372.7,243.3L368.9,240L373.6,238.4M383.8,225L368.8,222.8M372.7,225.9L368.8,222.8L373.4,221M383.8,206.9L369.4,202.2M372.7,205.9L369.4,202.2L374.3,201.1M383.8,188.8L370.3,181.8M373,186L370.3,181.8L375.3,181.6M400.7,468.8L414.9,463.2M409.9,462.5L414.9,463.2L411.7,467.1M400.7,451.8L415.6,448.8M410.9,447.2L415.6,448.8L411.9,452.1M400.7,434.7L415.6,431.4M410.8,429.9L415.6,431.4L411.9,434.8M400.7,417.6L415.6,414.6M410.9,413L415.6,414.6L411.9,417.9M400.7,400.4L415.5,396.7M410.7,395.4L415.5,396.7L411.9,400.2M400.7,383.2L415.1,378.3M410.2,377.4L415.1,378.3L411.8,382.1M400.7,366L414.4,359.4M409.5,359L414.4,359.4L411.6,363.6M400.7,348.6L413.5,340.4M408.5,340.6L413.5,340.4L411.2,344.8M400.7,331.2L412.6,321.7M407.7,322.5L412.6,321.7L410.8,326.4M400.7,313.8L412.6,304.3M407.7,305L412.6,304.3L410.8,309M400.7,296.2L413.1,287.3M408.1,287.8L413.1,287.3L411,291.9M400.7,278.5L410.9,267.2M406.1,268.8L410.9,267.2L409.8,272.1M400.7,260.8L386.9,254.5M389.8,258.6L386.9,254.5L391.8,254.1M400.7,243L385.7,240.8M389.6,243.9L385.7,240.8L390.3,238.9M400.7,225L385.7,222.8M389.6,225.9L385.7,222.8L390.3,221M400.7,206.9L386.1,202.7M389.6,206.3L386.1,202.7L391,201.5M400.7,188.8L386.9,182.4M389.8,186.5L386.9,182.4L391.9,181.9M417.6,451.8L432.2,447.3M427.3,446.2L432.2,447.3L428.8,450.9M417.6,417.6L432.6,414.7M427.8,413.1L432.6,414.7L428.8,418M417.6,400.4L432.2,396.2M427.4,395L432.2,396.2L428.8,399.8M417.6,383.2L432,378.4M427.1,377.4L432,378.4L428.7,382.1M417.6,366L431.5,359.6M426.5,359.2L431.5,359.6L428.6,363.7M417.6,348.6L430.7,340.9M425.7,340.9L430.7,340.9L428.3,345.2M417.6,331.2L429.9,322.2M424.9,322.8L429.9,322.2L427.9,326.8M417.6,313.8L429.7,304.5M424.7,305.1L429.7,304.5L427.8,309.1M417.6,296.2L429.9,287.2M424.9,287.7L429.9,287.2L427.9,291.8M417.6,278.5L423,264.3M419.1,267.5L423,264.3L423.8,269.3M417.6,260.8L403.7,254.7M406.7,258.7L403.7,254.7L408.7,254.1M417.6,243L402.6,240.5M406.5,243.7L402.6,240.5L407.3,238.8M417.6,225L402.5,223.3M406.6,226.3L402.5,223.3L407.1,221.3M417.6,206.9L402.8,203.9M406.5,207.2L402.8,203.9L407.5,202.3M417.6,188.8L402.8,185.4M406.5,188.8L402.8,185.4L407.6,183.9M417.6,170.4L402.5,171.4M407,173.7L402.5,171.4L406.6,168.7M434.6,570.5L425.7,558.2M426.2,563.1L425.7,558.2L430.2,560.2M434.6,553.6L429.1,539.4M428.3,544.3L429.1,539.4L433,542.5M434.6,536.7L433,521.5M430.9,526.1L433,521.5L435.9,525.6M434.6,519.7L435.8,504.6M432.9,508.7L435.8,504.6L437.9,509.1M434.6,502.8L438.1,488M434.7,491.6L438.1,488L439.5,492.8M434.6,468.8L444.8,457.5M440,459.1L444.8,457.5L443.7,462.4M434.6,451.8L445.5,441.2M440.6,442.4L445.5,441.2L444.1,446M434.6,434.7L448.1,427.9M443.1,427.6L448.1,427.9L445.4,432M434.6,400.4L448,393.3M443,393.1L448,393.3L445.3,397.5M434.6,383.2L448.3,376.7M443.3,376.3L448.3,376.7L445.4,380.8M434.6,366L448.4,359.6M443.4,359.1L448.4,359.6L445.5,363.7M434.6,348.6L448,341.5M443,341.3L448,341.5L445.3,345.7M434.6,331.2L447.4,323.1M442.4,323.3L447.4,323.1L445.1,327.6M434.6,313.8L447.2,305.3M442.2,305.7L447.2,305.3L445,309.8M434.6,296.2L447.1,287.6M442.1,288L447.1,287.6L444.9,292.1M434.6,278.5L443.7,266.4M439.1,268.4L443.7,266.4L443.1,271.4M434.6,260.8L421.9,252.4M424.1,256.9L421.9,252.4L426.9,252.7M434.6,243L419.4,241.4M423.5,244.3L419.4,241.4L424,239.4M434.6,225L419.4,224.6M423.6,227.2L419.4,224.6L423.8,222.2M434.6,206.9L419.5,204.9M423.5,208L419.5,204.9L424.1,203M434.6,188.8L419.5,186.6M423.4,189.7L419.5,186.6L424.2,184.8M434.6,170.4L420.9,177.2M425.9,177.5L420.9,177.2L423.7,173M434.6,152L422.3,160.9M427.2,160.4L422.3,160.9L424.3,156.4M451.5,570.5L439.1,561.7M441.2,566.2L439.1,561.7L444.1,562.2M451.5,553.6L441.7,541.9M442.6,546.9L441.7,541.9L446.4,543.6M451.5,536.7L446.1,522.4M445.3,527.4L446.1,522.4L450,525.6M451.5,519.7L449.8,504.6M447.8,509.2L449.8,504.6L452.8,508.6M451.5,502.8L450,487.6M447.9,492.2L450,487.6L452.9,491.7M451.5,485.8L454.3,470.9M451,474.6L454.3,470.9L456,475.6M451.5,468.8L460.5,456.6M455.9,458.6L460.5,456.6L459.9,461.5M451.5,451.8L455.7,437.2M452.1,440.6L455.7,437.2L456.9,442M451.5,434.7L462.8,424.5M457.9,425.6L462.8,424.5L461.2,429.3M451.5,417.6L465,410.7M460,410.4L465,410.7L462.3,414.9M451.5,400.4L464.7,393M459.8,393L464.7,393L462.2,397.3M451.5,383.2L465.3,377M460.4,376.5L465.3,377L462.4,381M451.5,366L465.3,359.7M460.4,359.2L465.3,359.7L462.4,363.8M451.5,348.6L465.1,342M460.2,341.6L465.1,342L462.3,346.1M451.5,331.2L464.8,323.8M459.8,323.8L464.8,323.8L462.2,328.1M451.5,313.8L464.5,306M459.5,306L464.5,306L462.1,310.3M451.5,296.2L464.3,287.9M459.3,288.2L464.3,287.9L462,292.4M451.5,278.5L461.8,267.4M457.1,268.9L461.8,267.4L460.7,272.3M451.5,260.8L449.9,245.7M447.9,250.2L449.9,245.7L452.9,249.7M451.5,243L436.3,242.7M440.6,245.2L436.3,242.7L440.7,240.2M451.5,225L436.3,225.4M440.7,227.8L436.3,225.4L440.6,222.8M451.5,206.9L436.3,205.6M440.4,208.4L436.3,205.6L440.9,203.5M451.5,188.8L436.3,187.5M440.4,190.3L436.3,187.5L440.9,185.4M451.5,170.4L438.3,178M443.3,178L438.3,178L440.8,173.7M451.5,152L440.1,162.1M445,161.1L440.1,162.1L441.7,157.3M451.5,133.4L439.3,142.5M444.3,141.9L439.3,142.5L441.3,137.9M468.4,553.6L454,548.7M457.3,552.5L454,548.7L458.9,547.7M468.4,536.7L456.4,527.3M458.3,532L456.4,527.3L461.4,528M468.4,519.7L463.2,505.4M462.3,510.4L463.2,505.4L467,508.6M468.4,502.8L461.8,489.1M461.4,494.1L461.8,489.1L465.9,491.9M468.4,485.8L460.9,472.6M460.9,477.6L460.9,472.6L465.2,475.1M468.4,468.8L462.7,454.7M462,459.7L462.7,454.7L466.6,457.8M468.4,451.8L477.4,439.5M472.8,441.5L477.4,439.5L476.8,444.5M468.4,434.7L479.6,424.4M474.7,425.5L479.6,424.4L478.1,429.2M468.4,417.6L480.1,407.9M475.2,408.7L480.1,407.9L478.4,412.6M468.4,400.4L481.1,392.2M476.2,392.4L481.1,392.2L478.9,396.6M468.4,383.2L482,376.4M477,376.1L482,376.4L479.2,380.6M468.4,366L481.8,358.9M476.9,358.7L481.8,358.9L479.2,363.1M468.4,348.6L481.8,341.5M476.8,341.3L481.8,341.5L479.2,345.7M468.4,331.2L481.6,323.8M476.6,323.7L481.6,323.8L479.1,328.1M468.4,313.8L481.5,306.1M476.5,306.1L481.5,306.1L479,310.4M468.4,278.5L480.3,269M475.3,269.8L480.3,269L478.4,273.7M468.4,260.8L466.7,245.7M464.7,250.3L466.7,245.7L469.7,249.7M468.4,243L453.5,239.9M457.3,243.2L453.5,239.9L458.2,238.3M468.4,225L453.2,225M457.5,227.5L453.2,225L457.5,222.5M468.4,206.9L453.2,206M457.4,208.8L453.2,206L457.7,203.8M468.4,188.8L453.5,185.7M457.2,189L453.5,185.7L458.3,184.1M468.4,170.4L453.9,174.9M458.7,176L453.9,174.9L457.3,171.2M468.4,152L455.3,159.6M460.3,159.6L455.3,159.6L457.7,155.3M468.4,133.4L454.6,139.9M459.6,140.3L454.6,139.9L457.5,135.8M468.4,114.7L453.9,119.2M458.8,120.3L453.9,119.2L457.3,115.5M485.3,570.5L470.4,573.3M475.1,575L470.4,573.3L474.2,570M485.3,536.7L470.2,538.3M474.8,540.3L470.2,538.3L474.2,535.4M485.3,519.7L470.2,518M474.2,521L470.2,518L474.8,516M485.3,502.8L471.7,496M474.5,500.2L471.7,496L476.7,495.7M485.3,485.8L473.5,476.2M475.3,480.9L473.5,476.2L478.4,477M485.3,468.8L479.1,454.9M478.6,459.9L479.1,454.9L483.2,457.8M485.3,451.8L491.9,438.1M487.8,440.9L491.9,438.1L492.3,443.1M485.3,434.7L496.6,424.5M491.7,425.6L496.6,424.5L495.1,429.3M485.3,417.6L496.8,407.6M491.9,408.6L496.8,407.6L495.2,412.4M485.3,400.4L496.6,390.3M491.7,391.3L496.6,390.3L495.1,395M485.3,383.2L497.3,373.9M492.4,374.6L497.3,373.9L495.4,378.5M485.3,366L497.5,356.8M492.5,357.4L497.5,356.8L495.5,361.4M485.3,243L470.1,242.5M474.4,245.2L470.1,242.5L474.5,240.2M485.3,225L470.2,226.2M474.7,228.3L470.2,226.2L474.3,223.4M485.3,206.9L470.2,208M474.7,210.2L470.2,208L474.3,205.2M485.3,188.8L470.1,189.1M474.5,191.5L470.1,189.1L474.4,186.5M485.3,133.4L470.5,136.8M475.3,138.3L470.5,136.8L474.2,133.4M485.3,114.7L470.4,117.4M475.1,119.1L470.4,117.4L474.2,114.1M485.3,95.7L470.3,98M475,99.9L470.3,98L474.2,94.9M485.3,76.7L470.2,78.6M474.9,80.5L470.2,78.6L474.2,75.6M502.2,570.5L488,575.8M492.9,576.7L488,575.8L491.2,572M502.2,536.7L487.7,541.1M492.6,542.2L487.7,541.1L491.1,537.4M502.2,519.7L487.1,519.1M491.3,521.8L487.1,519.1L491.5,516.8M502.2,502.8L487.7,498.4M491.1,502L487.7,498.4L492.5,497.2M502.2,485.8L490,476.8M492,481.4L490,476.8L494.9,477.4M502.2,468.8L495.6,455.1M495.3,460.1L495.6,455.1L499.8,457.9M502.2,451.8L507.4,437.5M503.6,440.7L507.4,437.5L508.3,442.4M502.2,434.7L513.8,424.8M508.9,425.7L513.8,424.8L512.1,429.5M502.2,417.6L513.9,407.8M509,408.7L513.9,407.8L512.2,412.5M502.2,400.4L513.5,390.2M508.6,391.3L513.5,390.2L512,394.9M502.2,313.8L516.3,308M511.4,307.3L516.3,308L513.3,312M502.2,296.2L488,301.5M492.9,302.3L488,301.5L491.2,297.6M502.2,243L487.3,245.8M492,247.5L487.3,245.8L491.1,242.6M502.2,225L487.3,228M492.1,229.6L487.3,228L491.1,224.7M502.2,206.9L487.5,210.6M492.3,212L487.5,210.6L491.1,207.2M502.2,188.8L487.5,192.3M492.2,193.7L487.5,192.3L491.1,188.8M502.2,170.4L487.4,173.9M492.2,175.3L487.4,173.9L491.1,170.5M502.2,152L487.3,154.8M492,156.4L487.3,154.8L491.1,151.5M502.2,133.4L487.1,134.4M491.5,136.6L487.1,134.4L491.2,131.6M502.2,114.7L487.1,115.9M491.6,118.1L487.1,115.9L491.2,113.1M502.2,95.7L487.1,97M491.6,99.1L487.1,97L491.2,94.1M502.2,76.7L487.1,77.8M491.6,80L487.1,77.8L491.2,75M502.2,57.4L487.1,58.5M491.6,60.7L487.1,58.5L491.2,55.7M519.2,570.5L505.1,576.4M510.1,577L505.1,576.4L508.2,572.4M519.2,553.6L505.5,560.3M510.5,560.7L505.5,560.3L508.3,556.2M519.2,536.7L504.7,541.4M509.6,542.4L504.7,541.4L508.1,537.7M519.2,519.7L504,519.4M508.2,522L504,519.4L508.4,517M519.2,502.8L504.6,498.3M508,502L504.6,498.3L509.5,497.2M519.2,485.8L507,476.7M509,481.3L507,476.7L512,477.3M519.2,468.8L512.3,455.2M512,460.2L512.3,455.2L516.5,458M519.2,451.8L521.3,436.7M518.2,440.7L521.3,436.7L523.2,441.4M519.2,417.6L530.8,407.9M525.9,408.7L530.8,407.9L529.1,412.6M519.2,313.8L511.1,326.7M515.5,324.3L511.1,326.7L511.3,321.7M519.2,296.2L505.9,303.7M510.9,303.7L505.9,303.7L508.5,299.4M519.2,278.5L505.6,285.5M510.6,285.7L505.6,285.5L508.3,281.3M519.2,260.8L505.2,266.9M510.2,267.4L505.2,266.9L508.2,262.9M519.2,243L504.8,248M509.8,248.9L504.8,248L508.1,244.2M519.2,225L504.7,229.7M509.6,230.7L504.7,229.7L508,226M519.2,206.9L504.8,211.9M509.7,212.8L504.8,211.9L508.1,208.1M519.2,188.8L504.8,193.8M509.7,194.7L504.8,193.8L508.1,190M519.2,170.4L504.8,175.5M509.7,176.4L504.8,175.5L508.1,171.7M519.2,152L504.3,155.3M509.1,156.8L504.3,155.3L508,151.9M519.2,133.4L504.1,135.1M508.6,137.1L504.1,135.1L508.1,132.1M519.2,114.7L504,115.6M508.5,117.8L504,115.6L508.2,112.8M519.2,95.7L504,96.3M508.4,98.7L504,96.3L508.2,93.7M519.2,76.7L504,77.3M508.4,79.6L504,77.3L508.2,74.6M519.2,57.4L504,58M508.4,60.3L504,58L508.2,55.3M536.1,570.5L521.6,575.2M526.5,576.2L521.6,575.2L525,571.5M536.1,553.6L522.4,560.2M527.4,560.5L522.4,560.2L525.2,556M536.1,536.7L521.9,542.1M526.8,542.9L521.9,542.1L525,538.2M536.1,519.7L520.9,518.4M525,521.2L520.9,518.4L525.5,516.3M536.1,502.8L522.1,496.7M525.1,500.8L522.1,496.7L527.1,496.2M536.1,485.8L524.3,476.2M526.1,480.9L524.3,476.2L529.2,477M536.1,468.8L528.4,455.7M528.4,460.7L528.4,455.7L532.8,458.1M536.1,451.8L534.9,436.6M532.7,441.1L534.9,436.6L537.7,440.7M536.1,417.6L546.9,407M542.1,408.2L546.9,407L545.6,411.8M536.1,331.2L550.6,335.9M547.2,332.2L550.6,335.9L545.7,336.9M536.1,313.8L537.6,328.9M539.7,324.3L537.6,328.9L534.7,324.8M536.1,296.2L524.6,306.2M529.5,305.2L524.6,306.2L526.3,301.5M536.1,278.5L524.4,288.3M529.4,287.4L524.4,288.3L526.1,283.6M536.1,260.8L523.6,269.5M528.6,269L523.6,269.5L525.7,264.9M536.1,243L522.7,250.2M527.7,250.3L522.7,250.2L525.3,245.9M536.1,225L522.1,231.1M527.1,231.6L522.1,231.1L525.1,227.1M536.1,206.9L522.2,213.1M527.2,213.6L522.2,213.1L525.1,209.1M536.1,188.8L522.2,194.9M527.1,195.4L522.2,194.9L525.1,190.8M536.1,170.4L522,176.1M526.9,176.8L522,176.1L525.1,172.2M536.1,152L521.5,156.1M526.3,157.4L521.5,156.1L524.9,152.5M536.1,133.4L521.1,135.8M525.7,137.6L521.1,135.8L525,132.6M536.1,114.7L520.9,115.9M525.5,118L520.9,115.9L525,113.1M536.1,95.7L520.9,96.4M525.3,98.7L520.9,96.4L525.1,93.7M536.1,76.7L520.9,77.1M525.3,79.5L520.9,77.1L525.1,74.5M536.1,57.4L520.9,57.8M525.3,60.2L520.9,57.8L525.1,55.2M553,570.5L537.8,569.9M542,572.6L537.8,569.9L542.2,567.6M553,553.6L537.8,553.4M542.1,556L537.8,553.4L542.2,551M553,536.7L538.5,532.1M541.9,535.8L538.5,532.1L543.4,531M553,519.7L542.6,508.6M543.8,513.5L542.6,508.6L547.4,510.1M553,502.8L542.6,491.6M543.8,496.5L542.6,491.6L547.4,493.1M553,485.8L542.8,474.5M543.9,479.4L542.8,474.5L547.6,476M553,417.6L560.3,404.3M556,406.9L560.3,404.3L560.4,409.3M553,348.6L567.5,344M562.6,343L567.5,344L564.1,347.7M553,331.2L566.7,337.7M563.9,333.6L566.7,337.7L561.8,338.1M553,313.8L560.9,326.7M560.8,321.7L560.9,326.7L556.6,324.3M553,296.2L548.2,310.6M551.9,307.3L548.2,310.6L547.2,305.7M553,278.5L546,292M550.2,289.3L546,292L545.8,287M553,260.8L544.3,273.3M548.9,271.2L544.3,273.3L544.8,268.3M553,243L542.4,253.8M547.2,252.5L542.4,253.8L543.6,249M553,225L540.8,234M545.7,233.5L540.8,234L542.8,229.5M553,206.9L540,214.9M545,214.7L540,214.9L542.4,210.5M553,188.8L539.6,196M544.6,196.1L539.6,196L542.3,191.7M553,170.4L539.3,177.1M544.3,177.4L539.3,177.1L542.1,172.9M553,152L538.6,156.9M543.5,157.9L538.6,156.9L541.9,153.2M553,133.4L538.1,136.5M542.9,138L538.1,136.5L541.8,133.1M553,114.7L537.9,116.4M542.5,118.4L537.9,116.4L541.9,113.4M553,95.7L537.8,96.6M542.3,98.9L537.8,96.6L542,93.9M553,76.7L537.8,77.2M542.2,79.5L537.8,77.2L542.1,74.5M553,57.4L537.8,57.8M542.2,60.2L537.8,57.8L542.1,55.2M569.9,570.5L557.6,561.6M559.6,566.2L557.6,561.6L562.6,562.1M569.9,553.6L562.7,540.2M562.6,545.2L562.7,540.2L567,542.8M569.9,536.7L568.3,521.5M566.3,526.1L568.3,521.5L571.3,525.6M569.9,519.7L566.8,504.8M565.2,509.6L566.8,504.8L570.1,508.6M569.9,502.8L567.6,487.7M565.8,492.4L567.6,487.7L570.8,491.6M569.9,485.8L563.5,472M563.1,477L563.5,472L567.6,474.9M569.9,468.8L562,455.8M562.1,460.8L562,455.8L566.4,458.2M569.9,400.4L571.6,385.3M568.6,389.4L571.6,385.3L573.6,389.9M569.9,383.2L574.1,368.6M570.5,372.1L574.1,368.6L575.3,373.5M569.9,366L578.3,353.3M573.8,355.5L578.3,353.3L578,358.3M569.9,348.6L582.8,340.6M577.8,340.8L582.8,340.6L580.5,345M569.9,331.2L585.1,332M580.9,329.3L585.1,332L580.7,334.3M569.9,313.8L583,321.6M580.5,317.2L583,321.6L578,321.5M569.9,296.2L577.4,309.4M577.4,304.4L577.4,309.4L573.1,306.9M569.9,278.5L570.1,293.7M572.6,289.4L570.1,293.7L567.6,289.4M569.9,260.8L567.1,275.7M570.3,271.9L567.1,275.7L565.4,271M569.9,243L563.7,256.8M567.8,253.9L563.7,256.8L563.2,251.9M569.9,225L560.4,236.9M565.1,235.1L560.4,236.9L561.2,231.9M569.9,206.9L558.2,216.6M563.1,215.8L558.2,216.6L559.9,211.9M569.9,188.8L557.1,197M562.1,196.7L557.1,197L559.4,192.5M569.9,170.4L556.6,177.8M561.6,177.9L556.6,177.8L559.2,173.5M569.9,152L555.8,157.6M560.7,158.3L555.8,157.6L558.9,153.6M569.9,133.4L555.1,137M559.9,138.4L555.1,137L558.8,133.5M569.9,114.7L554.9,116.7M559.5,118.6L554.9,116.7L558.8,113.7M569.9,95.7L554.8,96.8M559.3,99L554.8,96.8L558.9,94M569.9,76.7L554.7,77.3M559.2,79.6L554.7,77.3L559,74.6M569.9,57.4L554.7,57.9M559.1,60.3L554.7,57.9L559,55.3M586.8,570.5L577,558.9M577.9,563.8L577,558.9L581.7,560.6M586.8,553.6L580.5,539.8M580,544.8L580.5,539.8L584.6,542.7M586.8,536.7L583.3,521.9M581.9,526.7L583.3,521.9L586.7,525.5M586.8,519.7L584.7,504.7M582.8,509.3L584.7,504.7L587.8,508.6M586.8,502.8L581.8,488.4M580.9,493.3L581.8,488.4L585.6,491.7M586.8,485.8L579.6,472.4M579.5,477.4L579.6,472.4L583.9,475M586.8,468.8L578.4,456.1M578.7,461.1L578.4,456.1L582.9,458.4M586.8,451.8L578.9,438.8M579,443.8L578.9,438.8L583.3,441.2M586.8,434.7L580.2,421M579.8,426L580.2,421L584.3,423.8M586.8,417.6L582.1,403.2M581.1,408.1L582.1,403.2L585.8,406.5M586.8,400.4L583.2,385.7M581.8,390.5L583.2,385.7L586.7,389.3M586.8,383.2L589,368.2M585.9,372.1L589,368.2L590.9,372.8M586.8,366L594.5,352.8M590.2,355.3L594.5,352.8L594.5,357.8M586.8,348.6L598.8,339.2M593.8,339.9L598.8,339.2L596.9,343.9M586.8,331.2L600.8,325.3M595.9,324.7L600.8,325.3L597.8,329.3M586.8,313.8L602,313.6M597.7,311.1L602,313.6L597.7,316.1M586.8,296.2L600,303.8M597.5,299.5L600,303.8L595,303.8M586.8,278.5L593.4,292.3M593.8,287.3L593.4,292.3L589.3,289.4M586.8,260.8L589.6,275.8M591.3,271L589.6,275.8L586.3,271.9M586.8,243L585.3,258.1M588.2,254L585.3,258.1L583.2,253.5M586.8,225L580.6,238.9M584.6,235.9L580.6,238.9L580.1,233.9M586.8,206.9L576.6,218.2M581.4,216.7L576.6,218.2L577.7,213.3M586.8,188.8L574.8,198M579.7,197.3L574.8,198L576.7,193.4M586.8,170.4L573.9,178.4M578.9,178.3L573.9,178.4L576.3,174M586.8,152L572.9,158.1M577.9,158.7L572.9,158.1L575.9,154.1M586.8,133.4L572.2,137.4M577,138.7L572.2,137.4L575.7,133.9M586.8,114.7L571.8,117.1M576.5,118.9L571.8,117.1L575.7,113.9M586.8,95.7L571.7,97.1M576.2,99.2L571.7,97.1L575.8,94.2M586.8,76.7L571.7,77.5M576.1,79.8L571.7,77.5L575.8,74.8M586.8,57.4L571.7,58.1M576.1,60.4L571.7,58.1L575.9,55.4M603.8,570.5L594,558.8M594.9,563.8L594,558.8L598.7,560.6M603.8,519.7L596.6,506.3M596.4,511.3L596.6,506.3L600.8,509M603.8,502.8L594.4,490.8M595.1,495.8L594.4,490.8L599,492.7M603.8,485.8L594.5,473.7M595.2,478.7L594.5,473.7L599.2,475.6M603.8,468.8L595.2,456.3M595.6,461.2L595.2,456.3L599.7,458.4M603.8,451.8L596.2,438.6M596.2,443.6L596.2,438.6L600.5,441.1M603.8,434.7L597.7,420.8M597.1,425.7L597.7,420.8L601.7,423.7M603.8,417.6L599.4,403M598.2,407.9L599.4,403L603,406.5M603.8,400.4L601.8,385.4M599.9,390L601.8,385.4L604.8,389.3M603.8,383.2L606.5,368.3M603.2,372.1L606.5,368.3L608.2,373M603.8,366L611.5,352.9M607.2,355.3L611.5,352.9L611.5,357.9M603.8,348.6L615.3,338.7M610.4,339.6L615.3,338.7L613.6,343.4M603.8,331.2L616.9,323.5M611.9,323.6L616.9,323.5L614.4,327.9M603.8,313.8L618.4,309.6M613.5,308.4L618.4,309.6L614.9,313.2M603.8,296.2L618.9,297.7M614.8,294.8L618.9,297.7L614.3,299.7M603.8,278.5L615.3,288.5M613.6,283.7L615.3,288.5L610.4,287.5M603.8,260.8L610.6,274.4M610.9,269.4L610.6,274.4L606.5,271.6M603.8,243L605.9,258M607.8,253.4L605.9,258L602.8,254.1M603.8,225L600.7,239.9M604,236.2L600.7,239.9L599.1,235.1M603.8,206.9L595.2,219.5M599.7,217.4L595.2,219.5L595.6,214.6M603.8,188.8L592.6,199.1M597.5,198L592.6,199.1L594.1,194.4M603.8,170.4L591.4,179.4M596.4,178.8L591.4,179.4L593.5,174.8M603.8,152L590.1,158.8M595.1,159.1L590.1,158.8L592.9,154.6M603.8,133.4L589.2,137.9M594.1,139L589.2,137.9L592.6,134.3M603.8,114.7L588.8,117.5M593.5,119.1L588.8,117.5L592.6,114.2M603.8,95.7L588.7,97.4M593.2,99.4L588.7,97.4L592.7,94.5M603.8,76.7L588.6,77.8M593.1,80L588.6,77.8L592.7,75M603.8,57.4L588.6,58.3M593.1,60.5L588.6,58.3L592.8,55.5M620.7,570.5L610.6,559.2M611.6,564.1L610.6,559.2L615.3,560.7M620.7,553.6L611.2,541.7M612,546.6L611.2,541.7L615.9,543.5M620.7,536.7L611.5,524.5M612.1,529.5L611.5,524.5L616.1,526.5M620.7,519.7L611.3,507.8M612,512.7L611.3,507.8L615.9,509.6M620.7,502.8L610.6,491.4M611.6,496.3L610.6,491.4L615.4,493M620.7,485.8L611,474.1M611.8,479L611,474.1L615.7,475.8M620.7,468.8L612.2,456.2M612.6,461.2L612.2,456.2L616.7,458.4M620.7,451.8L613.8,438.2M613.6,443.2L613.8,438.2L618,440.9M620.7,434.7L616,420.2M614.9,425.1L616,420.2L619.7,423.6M620.7,417.6L617.7,402.7M616.1,407.4L617.7,402.7L621,406.4M620.7,400.4L620.1,385.2M617.8,389.7L620.1,385.2L622.8,389.5M620.7,383.2L624.3,368.5M620.8,372.1L624.3,368.5L625.7,373.3M620.7,366L628.6,353M624.2,355.4L628.6,353L628.5,358M620.7,348.6L631.5,338M626.7,339.2L631.5,338L630.2,342.8M620.7,331.2L633.1,322.5M628.1,322.9L633.1,322.5L631,327M620.7,313.8L634.6,307.7M629.7,307.1L634.6,307.7L631.6,311.7M620.7,296.2L635.8,294.5M631.2,292.5L635.8,294.5L631.8,297.4M620.7,278.5L635.3,282.9M631.8,279.2L635.3,282.9L630.4,284M620.7,260.8L631.4,271.5M630.1,266.7L631.4,271.5L626.6,270.2M620.7,243L626.2,257.1M627,252.2L626.2,257.1L622.3,254M620.7,225L620.4,240.2M623,235.9L620.4,240.2L618,235.8M620.7,206.9L614.3,220.8M618.4,217.9L614.3,220.8L613.9,215.8M620.7,188.8L610.9,200.4M615.6,198.7L610.9,200.4L611.8,195.5M620.7,170.4L609.1,180.2M614,179.4L609.1,180.2L610.8,175.5M620.7,152L607.4,159.3M612.3,159.4L607.4,159.3L609.9,155M620.7,133.4L606.2,138.1M611.1,139.2L606.2,138.1L609.6,134.4M620.7,114.7L605.8,117.6M610.5,119.2L605.8,117.6L609.5,114.3M620.7,95.7L605.6,97.6M610.2,99.6L605.6,97.6L609.6,94.6M620.7,76.7L605.5,78M610.1,80.1L605.5,78L609.6,75.2M620.7,57.4L605.5,58.5M610,60.7L605.5,58.5L609.7,55.7M637.6,570.5L627.2,559.5M628.3,564.3L627.2,559.5L632,560.9M637.6,553.6L627.5,542.2M628.5,547.1L627.5,542.2L632.3,543.8M637.6,536.7L627.6,525.2M628.6,530.1L627.6,525.2L632.4,526.8M637.6,519.7L627.4,508.4M628.5,513.3L627.4,508.4L632.2,510M637.6,502.8L627,491.9M628.2,496.7L627,491.9L631.8,493.3M637.6,485.8L627.8,474.1M628.7,479.1L627.8,474.1L632.5,475.9M637.6,468.8L629.3,456.1M629.6,461L629.3,456.1L633.8,458.3M637.6,451.8L631.1,438M630.7,443L631.1,438L635.2,440.9M637.6,434.7L633.2,420.1M632.1,425L633.2,420.1L636.9,423.6M637.6,417.6L635.3,402.6M633.5,407.2L635.3,402.6L638.4,406.5M637.6,400.4L637.6,385.2M635.1,389.6L637.6,385.2L640.1,389.6M637.6,383.2L641.9,368.6M638.3,372.1L641.9,368.6L643.1,373.5M637.6,366L645.7,353.1M641.3,355.4L645.7,353.1L645.5,358.1M637.6,348.6L648.4,337.9M643.6,339.2L648.4,337.9L647.1,342.8M637.6,331.2L649.6,322M644.7,322.6L649.6,322L647.7,326.6M637.6,313.8L651,306.6M646,306.4L651,306.6L648.4,310.8M637.6,296.2L652.2,291.8M647.3,290.7L652.2,291.8L648.7,295.4M637.6,278.5L652.8,278M648.4,275.7L652.8,278L648.5,280.7M637.6,260.8L650.7,268.6M648.2,264.2L650.7,268.6L645.7,268.5M637.6,243L645.7,255.8M645.5,250.8L645.7,255.8L641.3,253.5M637.6,225L639.8,240.1M641.6,235.4L639.8,240.1L636.7,236.1M637.6,206.9L633.2,221.5M636.9,218.1L633.2,221.5L632.1,216.6M637.6,188.8L629.2,201.4M633.7,199.2L629.2,201.4L629.5,196.5M637.6,170.4L626.9,181.2M631.7,179.9L626.9,181.2L628.2,176.4M637.6,152L624.6,159.8M629.6,159.7L624.6,159.8L627,155.4M637.6,133.4L623.1,138M628,139.1L623.1,138L626.5,134.3M637.6,114.7L622.7,117.8M627.5,119.4L622.7,117.8L626.4,114.5M637.6,95.7L622.5,97.8M627.2,99.7L622.5,97.8L626.5,94.7M637.6,76.7L622.5,78.3M627.1,80.3L622.5,78.3L626.5,75.4M637.6,57.4L622.5,58.8M627,60.9L622.5,58.8L626.5,55.9" stroke="#00007c" stroke-width="1" fill="none" shape-rendering="crispEdges"/>
<path d="M418,446 421,445.5 422,448.5 419,449.5ZM502.6,355 504,355 504,361 502.6,361ZM509.6,358 514,358.5 513,361 510,360.5ZM561,395 563.5,396 564,402 562,403 560.5,399ZM569,401 572,401 572,405 569,405ZM105,30 502,30 502,39 500,46 493,52 497,60 495,68 490,73 482,76 480,84 474,92 470,98 462,100 461,108 466,112 463,120 454,126 450,132 444,136 440,141 432,145 428,154 420,159 415,160 409,165 403,172 393,174 383,176 377,178 371,182 367,188 363,186 360,176 358,169 357,178 356,186 351,190 345,193 339,192 329,195 323,197 315,199 309,202 306,200 304,208 308,216 303,220 299,218 297,210 298,200 295,197 291,195 285,199 280,194 275,191 269,195 265,197 258,201 250,208 242,208 242,216 238,222 231,227 228,236 226,244 230,253 238,259 242,267 250,276 258,284 265,290 271,296 277,304 282,313 285,323 287,333 289,343 289,351 286.5,356.5 285.7,365.8 281.8,375 274,381.3 266.4,386 258.6,389.8 252.4,392 247.8,395 243,401.5 240.8,407 236,409 229,413 221.5,417 218.4,421.6 212,424 211.4,420 213,413.8 213.7,406 216,401.5 213,396.8 206,392 201,390.6 199.5,394 200,399 198,398 197.5,393 195,391.4 192,388 193.6,383 190.5,380.5 186.6,383.6 183.5,381 181,375 178,367.4 177,363 170,362 165,357 159,353 153,355 146,354 144,349 147,345 147,340 134,340 130,343 129,353 130,363 127,369 124,377 121,386 117,388 118,396 116,406 119,412 125,412 129,420 134,428 136,440 140,447 148,453 157,454 163,462 170,466 177,471 183,478 187,486 189,497 187,507 190,517 194,525 198,533 201,541 202,547 198,548 194,546 190,548 184,543 176,538 168,533 160,527 154,521 151,513 146,505 142,497 140,487 136,479 134,469 134,461 128,456 123,448 118,440 113,434 105,430ZM105,504 113,508 118,512 124,518 130,525 136,529 143,533 147,538 153,537 158,541 165,545 168,551 174,555 180,557 186,561 190,564 196,569 197,580 130,580 125,570 113,556 105,548ZM286,580 285,570 281,561 284,549 289,539 292,537 295,541 305,543 313,544 318,541 321,531 323,523 331,521 341,519 349,518 354,513 359,507 363,501 367,493 375,490 383,486 389,482 395,477 401,471 407,463 411,459 414,453.5 416.5,457 420.4,453.2 423,457 425.6,461.8 431.8,470 442,475 453.4,479 455.4,482 449,485.4 438,486.5 440,491.6 446,494.7 438,497.8 429.7,498.8 427.6,505 424,508 425.6,514 427.6,519.4 433.8,525.6 436,531.8 430.7,535.9 436,540 444,547 450.3,553.4 440,555.4 432.8,551.3 433.8,558.5 428.7,562.6 426.6,570 426.6,580ZM276.8,237.5 281.8,232.6 287.5,229 293,226 300,226 306,224.7 311.6,225.5 315.8,227.6 316.6,231 313,234.7 311,240.4 308,246 303,250.3 297.4,253.8 291.7,256 286,254.6 280.4,251.7 277.5,247.5 276,241.8ZM495,129 500,134 499,144 496,152 494,164 491,169 485,177 483,189 480,190 475,179 470,169 471,160 473,156 478,148 484,136 488,132ZM479,253 483,250 490,252 497,256 503,256 506,251 507,258 505,266 508,274 511,279 508,286 506,290 501.5,294.6 497,299 494.5,304 492,308.6 494,314 495,320 497.4,326 501.5,330.6 505,333 508,329.5 509.4,327.7 514,326.5 517.7,327 519,331 522,334 524.8,332 528.7,333.5 534,334 534.5,336 530,336.8 528.7,339 532,342.6 532.6,345.8 535.8,345.8 537.7,349.7 537.7,354.8 535,355.5 534,351 531.3,347.7 527.4,347.7 524.8,344 522,340.6 519,339 515.8,335.5 512,333 510,334 512,337.6 513,342 512,344.6 510.7,342 508.4,338.8 505,336.5 501,334 496.8,333 493.3,334 491,337 487.5,337 484,334 480,331.8 478.8,328 481,326 484.6,323.7 484,320 481.7,318 478.8,320 477.6,323.7 475.9,322.5 471.8,318 469.5,313 467.8,305 466,297 465,291 469,290 474,294 475,284 476,274 476,264 478,257ZM474.7,341 478,340 485,340.5 489.8,342 492.7,345.7 494,351.5 492.7,357 489.8,362 487.5,362.6 485,358.5 483,352.7 480,347 476.5,343ZM503,368 505.5,369.7 510.6,372 515.8,375.5 520,374 520,377 517.7,380 515,383 512,385 509.4,389 505.5,390 503,392 501,390 501.6,384.5 503.5,378 502,373ZM521,385 524.8,384 528,384.5 527.4,389.7 526,391.5 523.5,398 522,404 523.5,410.8 522,414.7 519.7,416 517,410.8 513,408 510,406 509.4,403 512,400.5 517.7,399.8 519,394 519.7,387.6ZM535,383 536.5,385.8 535.8,390 533,395 528.7,400.5 525.5,405.6 524,404 526.8,399 531,392.7 534,387.6ZM533,402.4 536.5,399 541.6,398.5 544.8,400.5 544,404 539.7,406 535,405.6ZM524,356.8 526,358.7 528.7,360 532.6,364 535.8,367 536.5,369.7 534,368.4 530,364.5 526.8,362 524,362.6 523,365.8 521.6,364 523,360ZM541,357.4 545.5,356.8 550.6,356.8 555.8,357.4 558.4,360.6 560,365 560,371.6 562,376.8 564,380 561,380.6 557,378.7 554.5,374 553,370 550,369 547.4,366.5 544,362.6 541.6,360ZM541.6,373 544,371.6 546.8,374 550.6,375.5 552.6,380.6 553,385.8 555.8,390 557,395 554.5,398 552,398.7 550.6,396.6 549.4,391.5 548,387 545.5,383 543.5,378ZM459.9,385.9 453.4,391.9 442.4,405.5 432.9,414.4 423.9,423.9 418.9,429.9 416.9,435.1 419.1,436.1 424.1,431.1 436.1,421.1 441.1,415.1 446.1,406.1 451.1,400.1 459.1,394.1 462.1,391.1ZM560,405 564,407 567,409.5 571,413 574.5,418.5 572.5,424 576,429 578,434 580,440.5 579,447 575,451 574,457 573,462 571,457 570,452 567.5,448 564,449 561,453 560,458.5 562,462 565.5,466 564,471 560,476 556,471 548,469 544,466 540,463.7 537.7,458.5 537,453 539.7,448 538.4,443.7 535,440.5 531,438 528.7,436 526.8,439 523.5,441.8 520,440.5 517,443 514.5,440.5 510.6,441.8 508,445.6 506,450.8 503,452 501,449.5 503,445.6 504.8,440.5 507.4,436.6 512,434 517.7,432.7 519.7,429 520,426 524.8,423.7 530,424 532.6,427.6 541,426 544,423.7 548.7,424 549,419.8 554.5,419.8 558.4,417 561.6,418 560.3,410.8ZM466.5,580 466.5,568 467,564 470,558.4 473.5,554.8 479,553.4 483.4,547.7 489,548.5 493.3,551.3 501.8,552.7 511.8,554.8 517.5,556.3 526,555.5 534.5,554.8 541.6,551.3 547.3,545.6 553,542 556.5,544.2 553,550 547.3,557 543,562.6 534.5,564.8 526,564.8 520.3,562 511.8,560.5 501.8,560.5 492,560.5 483.4,562 476.3,562 472,564.8 470.6,569.7 470.6,580ZM609.5,527 612.5,526.5 614.5,529 614,533.5 611.5,536 609,535 608.5,531ZM604.5,535.5 608,536 607,542 603.5,550 601,556 604,552.5 607,548.5 610,546 616,545 616,550 612,556 606,561.5 610,564.5 614,566 617.5,569 612,568.5 607,567 602,564.5 599,561 597,559 594.6,557.5 596,550 600,542ZM582,493 585,495 585,503 583,507 581,503ZM561,508 564,510 563,513 560,511ZM269,500 272,503 269,507 266,503ZM501,314 502.6,314 502.6,320 501,320ZM500,340 503,340 504,343 502,344.5 499.7,343ZM539.5,330.5 542,330 543.5,334 542.5,338 540,338 538.8,334ZM500,457 504,456.5 505,460 501,461.5ZM486,467 491,466.5 492,469.5 487,470.5ZM469,480 473,479.5 473.5,482.5 469.5,483Z" fill="#c0c0c0" stroke="#000" stroke-width="1.2" stroke-linejoin="round" shape-rendering="crispEdges"/>
<path d="M503.6,41.2 501.3,46.5 496.6,48.8 494.9,54.6 497.8,60.4 496.1,65.2 496.6,69.7 493.2,73.2 488.6,72.2 487.3,76.7 482.6,77.8 483.9,81.2 480.4,86 478.1,91.8 474.6,95.2 472.3,98.8 466.4,100.5 462.6,101.2 462.1,106.2 464.3,110.2 462,115.9 463.2,120.6 457.3,124.2 452.6,129.9 448.1,134.5 445.6,139.2 438.6,141.5 433,145 435.3,148.5 430.6,153.2 424.6,155.4 421.3,160.2 414.4,162.4 410.3,165.9" fill="none" stroke="#000" stroke-width="3.2" stroke-dasharray="5 1.5 3 1 6 2" stroke-linejoin="round"/>
<path d="M408.3,167.2 403.3,173.2 393.3,175.2 383.3,177.2 377.3,179.2 371.3,183.2 367.3,189.2" fill="none" stroke="#000" stroke-width="2.4" stroke-dasharray="4 2 2 1.5" stroke-linejoin="round"/>
<path d="M364,186 362,178 359,170" fill="none" stroke="#000" stroke-width="2.6" stroke-dasharray="3 1" stroke-linejoin="round"/>
<path d="M356.7,173.3 356.2,181.3 355.7,187.3 350.7,191.3 344.7,194.3 338.7,193.3 328.7,196.3 322.7,198.3 314.7,200.3 308.7,203.3" fill="none" stroke="#000" stroke-width="2.4" stroke-dasharray="4 1.5 2 2" stroke-linejoin="round"/>
<path d="M307.2,201 305.2,208 308.2,215" fill="none" stroke="#000" stroke-width="2" stroke-dasharray="3 1.5" stroke-linejoin="round"/>
<path d="M297,211.2 298,201.2 295,198.2 291,196.2 285,200.2 280,195.2 275,192.2 269,196.2 265,198.2" fill="none" stroke="#000" stroke-width="2.2" stroke-dasharray="4 1.5 2 1.5" stroke-linejoin="round"/>
<path d="M263.6,199.6 258.6,202.6 250.6,207.6 243.6,208.6" fill="none" stroke="#000" stroke-width="3.4" stroke-dasharray="6 1 3 1" stroke-linejoin="round"/>
<path d="M244,208.3 244,216.3 240,222.3" fill="none" stroke="#000" stroke-width="1.8" stroke-dasharray="3 2" stroke-linejoin="round"/>
<path d="M459.8,377 461.8,377 462.5,382 461.5,388 459.5,389.5 458,386 458.5,381ZM468.5,362 471,361.5 473,364 472.5,368 470.5,370.5 468.5,369.5 468,366Z" fill="#c0c0c0" stroke="#000" stroke-width="2.2" stroke-linejoin="round"/>
<path d="M216,371 217,380 217,386 221.5,392 227.6,397 233.8,404.5 239,407.5M219,384 224,390 230,395 236,401 242,403M263,196 254,195 246,190 242,182 245,174 238,171 230,172 224,167 220,163 214,168 208,174 202,173 198,180 192,174 186,174 180,181 174,175 170,177 168,180M168,180 163,180 158,181 156,188 159,196 161,203 153,204 151,197 148,194M113,168 119,169 123,172 119,178 117,186 124,187 130,190 133,197 140,199 148,194M148,195 142,202 138,210 133,213 132,218M132,218 128,218 122,220 120,224 114,225 113,229M132,218 137,220 140,224 138,232 144,234 151,233 153,242 151,253 146,263 147,269 156,264 166,257 174,263 182,259 187,253 196,255 204,264 210,271 210,283 214,291 222,296 226,303 223,311 224,319 218,326M168,180 172,186 177,192 181,195 179,202 183,208 193,213 200,208 208,213 205,218 214,223 212,229 203,231 196,238 204,242 218,248 219,253 226,261 234,269 240,275 243,285 250,291 256,296 253,300 259,307 257,315 258,320M218,326 224,328 230,328 234,324 240,322 246,325 252,322 258,320M218,326 210,324 200,325 190,324 183,326 178,332 170,339 171,347 174,357 177,363M258,320 256,329 259,339 257,349 258.6,358 249,362.7 240,366.6 237,370.5 230.7,369.7 228.4,373.6 230.7,379.8 234.6,383 233,386 226,383.6 220,385 216,388 207,392M113,331 117,333 116,343 120,357 124,371 122,379 118,388M133,458 140,460 145,463 149,466 147,472 151,474 158,471 163,472 165,466M292,537 295,545 303,552 309,556 317,553 325,553 333,551 339,544 349,543 355,547 363,549 369,545 377,544 381,535 387,527 385,519 393,515 393,505 397,498 405,496 420,497 432,499M371,492 373,498 379,501 381,494 383,487M385,486 386,494 390,496 389,485M301,163 304,160 308,162 314,163 319,162 323,162" fill="none" stroke="#000" stroke-width="1" shape-rendering="crispEdges"/>
<path d="M230,315 230,330 231,345 232,361M212,367 218,365 224,362M214,373 216,378 218,384" fill="none" stroke="#000" stroke-width="1" stroke-dasharray="2 2" shape-rendering="crispEdges"/>
<path d="M590,112.5 593,109.5 597,108 600,104 604,101 609,97 610.5,99 607,103.5 603,107 600,111 596,113 592,114.5ZM621.5,75.5 625,72 629,69 633,66 634,68.5 630,72.5 626,76 623,78ZM530,145 533,143.5 536,145 539,142.5 542,143 540,146.5 536,148 532,148.5ZM555.5,135.5 559,135.5 559.5,139 556,139.5ZM399,40h1v1h-1zM404,41h2v1h-2zM407,48h1v1h-1zM408,55h1v1h-1zM417,498h6v5h-6zM419,503h7v5h-7zM421,508h5v5h-5zM424,513h4v4h-4zM428,497h3v2h-3zM418,436h2v2h-2zM197,551h5v3h-5zM203,553h4v4h-4zM207,557h4v3h-4zM199,559h4v3h-4zM205,562h5v4h-5zM210,560h2v3h-2zM196,563h3v3h-3zM459,158h4v3h-4zM461,161h3v4h-3zM458,163h2v2h-2zM518,143h2v2h-2zM548,139h2v2h-2zM496,457h2v2h-2zM480,463h3v2h-3zM477,466h2v2h-2zM480,474h4v3h-4zM474,476h3v2h-3zM469,470h2v2h-2zM462,472h2v2h-2zM459,489h2v2h-2zM486,466h2v1h-2zM491,466h1v2h-1zM583,494h2v2h-2zM582,505h2v2h-2zM493,236h3v3h-3zM500,233h2v3h-2zM489,241h2v2h-2zM491,245h2v2h-2zM500,243h3v3h-3zM500,208h2v4h-2zM499,217h3v3h-3zM494,188h2v2h-2zM493,177h1v2h-1zM558,137h3v3h-3zM538,144h3v3h-3zM532,145h3v3h-3zM548,139h1v2h-1zM619,81h2v2h-2zM613,88h2v1h-2zM583,108h2v1h-2zM630,48h1v1h-1zM633,43h1v2h-1zM628,53h1v1h-1zM242,422h3v2h-3zM209,404h2v2h-2zM232,512h6v4h-6zM228,517h3v3h-3zM236,518h2v2h-2zM262,492h2v2h-2zM262,518h2v3h-2zM257,553h2v2h-2zM200,551h4v3h-4zM204,556h4v3h-4zM198,557h3v2h-3zM280,519h1v2h-1zM284,526h2v2h-2zM478,464h3v2h-3zM483,474h3v2h-3zM467,470h2v2h-2zM475,478h2v2h-2zM462,484h2v2h-2zM560,523h2v2h-2zM559,530h3v2h-3zM558,534h2v2h-2zM566,403h2v3h-2zM493,462h3v2h-3zM445,492h2v2h-2zM586,110h2v2h-2zM596,112h3v2h-3zM551,141h1v1h-1zM447,49h2v1h-2zM467,137h2v2h-2zM474,134h2v2h-2zM462,147h2v2h-2zM503,121h1v1h-1zM476,107h1v1h-1zM480,99h1v1h-1zM455,235h1v1h-1zM397,212h1v1h-1zM344,279h1v1h-1zM281,391h1v1h-1zM375,388h1v1h-1z" fill="#000"/>
</g>
<path d="M130.5,38v5M130.5,570v-5M164.5,38v5M164.5,570v-5M198.5,38v5M198.5,570v-5M232.5,38v5M232.5,570v-5M265.5,38v5M265.5,570v-5M299.5,38v5M299.5,570v-5M333.5,38v5M333.5,570v-5M367.5,38v5M367.5,570v-5M401.5,38v5M401.5,570v-5M435.5,38v5M435.5,570v-5M468.5,38v5M468.5,570v-5M502.5,38v5M502.5,570v-5M536.5,38v5M536.5,570v-5M570.5,38v5M570.5,570v-5M604.5,38v5M604.5,570v-5M638.5,38v5M638.5,570v-5M113,537.5h5M637,537.5h-5M113,503.5h5M637,503.5h-5M113,469.5h5M637,469.5h-5M113,435.5h5M637,435.5h-5M113,400.5h5M637,400.5h-5M113,366.5h5M637,366.5h-5M113,331.5h5M637,331.5h-5M113,296.5h5M637,296.5h-5M113,261.5h5M637,261.5h-5M113,225.5h5M637,225.5h-5M113,189.5h5M637,189.5h-5M113,152.5h5M637,152.5h-5M113,115.5h5M637,115.5h-5M113,77.5h5M637,77.5h-5" stroke="#000" stroke-width="1" fill="none" shape-rendering="crispEdges"/>
<rect x="255" y="629" width="241" height="12.5" fill="url(#cb)"/><rect x="255" y="629" width="2.3" height="12.5" fill="#000"/>
<g font-family="'Liberation Sans', sans-serif"><text x="375.5" y="19.3" font-size="13" text-anchor="middle" fill="#000066" textLength="253.5" lengthAdjust="spacingAndGlyphs">Significant Wave Height with Wave Direction</text><text x="376.5" y="31.5" font-size="12" text-anchor="middle" font-style="italic" fill="#000066" textLength="186" lengthAdjust="spacingAndGlyphs">Valid For Sep-03-2005 18:00 GMT</text><text x="134" y="588" font-size="11" text-anchor="middle" font-style="italic" fill="#000">100 E</text><text x="218.6" y="588" font-size="11" text-anchor="middle" font-style="italic" fill="#000">105 E</text><text x="303.2" y="588" font-size="11" text-anchor="middle" font-style="italic" fill="#000">110 E</text><text x="387.8" y="588" font-size="11" text-anchor="middle" font-style="italic" fill="#000">115 E</text><text x="472.4" y="588" font-size="11" text-anchor="middle" font-style="italic" fill="#000">120 E</text><text x="557" y="588" font-size="11" text-anchor="middle" font-style="italic" fill="#000">125 E</text><text x="641.6" y="588" font-size="11" text-anchor="middle" font-style="italic" fill="#000">130 E</text><text x="646" y="574.5" font-size="11" text-anchor="start" font-style="italic" fill="#000">0</text><text x="646" y="489.8" font-size="11" text-anchor="start" font-style="italic" fill="#000">5 N</text><text x="646" y="404.4" font-size="11" text-anchor="start" font-style="italic" fill="#000">10 N</text><text x="646" y="317.8" font-size="11" text-anchor="start" font-style="italic" fill="#000">15 N</text><text x="646" y="229" font-size="11" text-anchor="start" font-style="italic" fill="#000">20 N</text><text x="646" y="137.4" font-size="11" text-anchor="start" font-style="italic" fill="#000">25 N</text><text x="646" y="42" font-size="11" text-anchor="start" font-style="italic" fill="#000">30 N</text><text x="112.7" y="601.5" font-size="12.5" text-anchor="start" fill="#000066" textLength="129" lengthAdjust="spacingAndGlyphs">oceanweather inc.</text><text x="521" y="598.8" font-size="8" text-anchor="start" font-style="italic" fill="#000066" textLength="116" lengthAdjust="spacingAndGlyphs">Plotted at Sep03, 2005 11:12 GMT</text><text x="306" y="613.5" font-size="9.2" text-anchor="start" fill="#000066" textLength="138.5" lengthAdjust="spacingAndGlyphs">Significant Wave Height (Meters)</text><text x="311" y="661.5" font-size="9.2" text-anchor="start" fill="#000066" textLength="127.5" lengthAdjust="spacingAndGlyphs">Significant Wave Height (Feet)</text><text x="256" y="626" font-size="9" text-anchor="middle" fill="#000066">0</text><text x="276" y="626" font-size="9" text-anchor="middle" fill="#000066">1</text><text x="296" y="626" font-size="9" text-anchor="middle" fill="#000066">2</text><text x="316" y="626" font-size="9" text-anchor="middle" fill="#000066">3</text><text x="336" y="626" font-size="9" text-anchor="middle" fill="#000066">4</text><text x="356" y="626" font-size="9" text-anchor="middle" fill="#000066">5</text><text x="376" y="626" font-size="9" text-anchor="middle" fill="#000066">6</text><text x="396" y="626" font-size="9" text-anchor="middle" fill="#000066">7</text><text x="416" y="626" font-size="9" text-anchor="middle" fill="#000066">8</text><text x="436" y="626" font-size="9" text-anchor="middle" fill="#000066">9</text><text x="456" y="626" font-size="9" text-anchor="middle" fill="#000066">10</text><text x="476" y="626" font-size="9" text-anchor="middle" fill="#000066">11</text><text x="496" y="626" font-size="9" text-anchor="middle" fill="#000066">12</text><text x="256" y="650.2" font-size="9" text-anchor="middle" fill="#000066">0</text><text x="286" y="650.2" font-size="9" text-anchor="middle" fill="#000066">5</text><text x="316" y="650.2" font-size="9" text-anchor="middle" fill="#000066">10</text><text x="346" y="650.2" font-size="9" text-anchor="middle" fill="#000066">15</text><text x="376" y="650.2" font-size="9" text-anchor="middle" fill="#000066">20</text><text x="406" y="650.2" font-size="9" text-anchor="middle" fill="#000066">25</text><text x="436" y="650.2" font-size="9" text-anchor="middle" fill="#000066">30</text><text x="466" y="650.2" font-size="9" text-anchor="middle" fill="#000066">35</text><text x="496" y="650.2" font-size="9" text-anchor="middle" fill="#000066">40</text></g>
</svg>
</body></html>
